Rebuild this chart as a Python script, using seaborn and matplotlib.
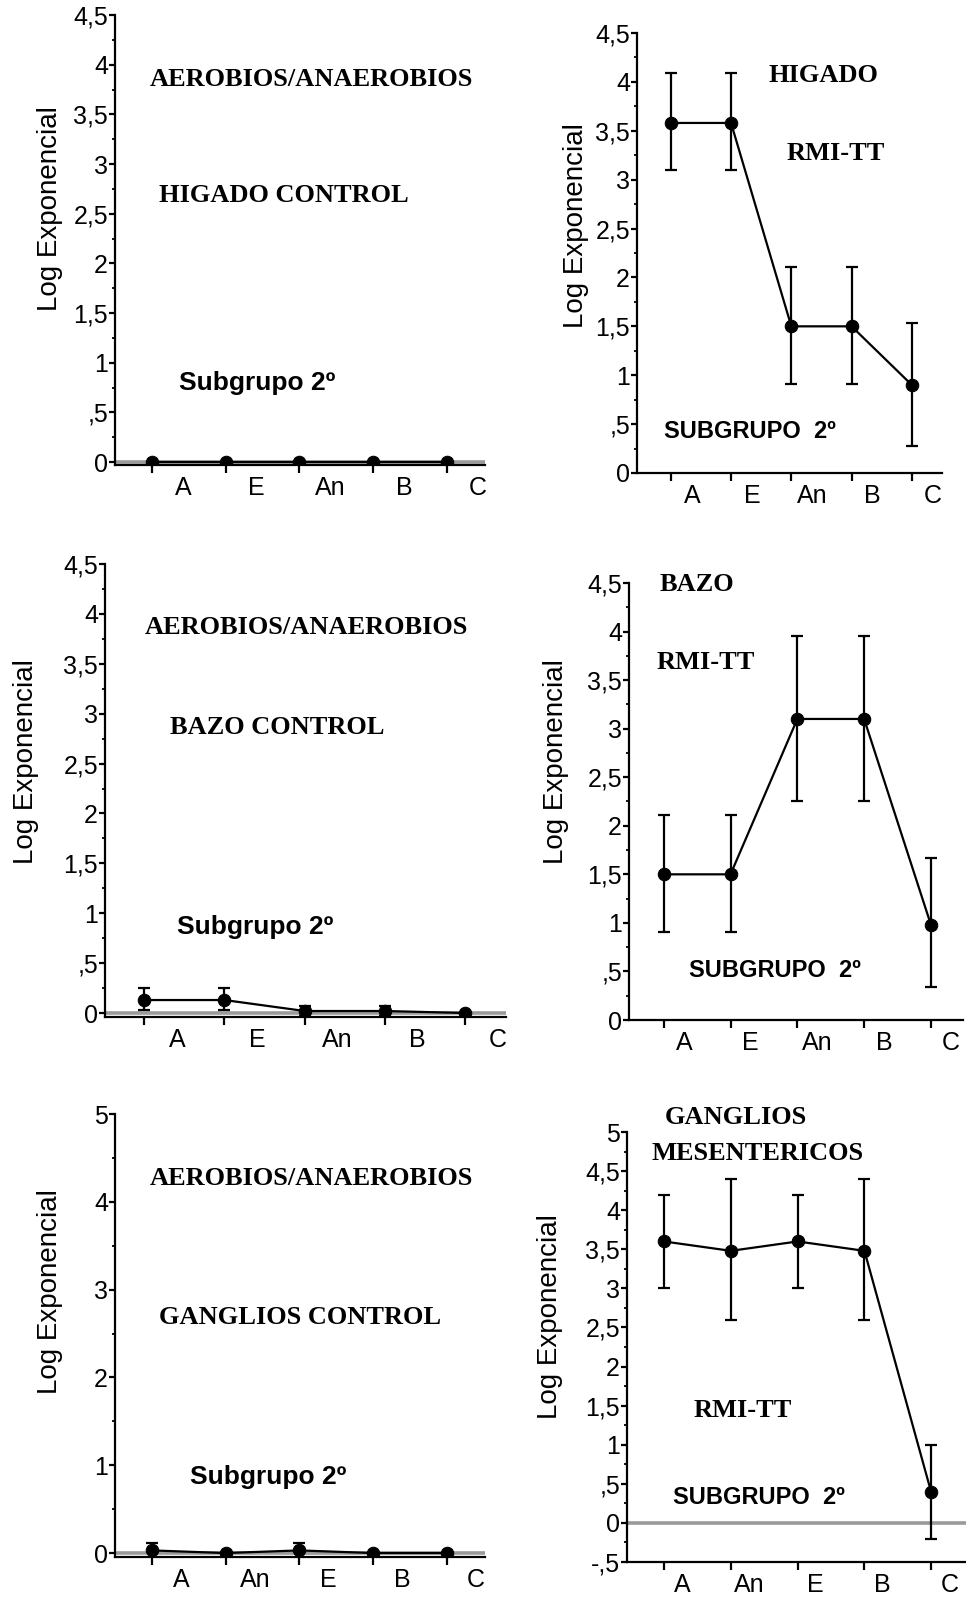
import matplotlib
matplotlib.use('Agg')
import matplotlib.pyplot as plt
import numpy as np
import pandas as pd
import seaborn as sns

# categories (order differs between the top four and the bottom two panels)
cats_top = ['A', 'E', 'An', 'B', 'C']
cats_bottom = ['A', 'An', 'E', 'B', 'C']

# HIGADO
higado_ctrl = [0.0, 0.0, 0.0, 0.0, 0.0]
higado_rmi = [3.58, 3.58, 1.50, 1.50, 0.90]
higado_rmi_lo = [3.10, 3.10, 0.91, 0.91, 0.28]
higado_rmi_hi = [4.09, 4.09, 2.11, 2.11, 1.53]

# BAZO
bazo_ctrl = [0.13, 0.13, 0.02, 0.02, 0.0]
bazo_ctrl_lo = [0.03, 0.03, -0.03, -0.03, 0.0]
bazo_ctrl_hi = [0.25, 0.25, 0.07, 0.07, 0.0]
bazo_rmi = [1.50, 1.50, 3.10, 3.10, 0.98]
bazo_rmi_lo = [0.91, 0.91, 2.25, 2.25, 0.34]
bazo_rmi_hi = [2.11, 2.11, 3.95, 3.95, 1.67]

# GANGLIOS
gang_ctrl = [0.03, 0.0, 0.03, 0.0, 0.0]
gang_ctrl_lo = [-0.06, 0.0, -0.06, 0.0, 0.0]
gang_ctrl_hi = [0.12, 0.0, 0.12, 0.0, 0.0]
gang_rmi = [3.60, 3.48, 3.60, 3.48, 0.39]
gang_rmi_lo = [3.00, 2.60, 3.00, 2.60, -0.20]
gang_rmi_hi = [4.20, 4.40, 4.20, 4.40, 1.00]

W, H = 966, 1610
sns.set_style('ticks')
plt.rcParams['font.family'] = ['Liberation Sans', 'DejaVu Sans']
plt.rcParams['text.color'] = 'black'
plt.rcParams['axes.labelcolor'] = 'black'
plt.rcParams['xtick.color'] = 'black'
plt.rcParams['ytick.color'] = 'black'
SERIF = ['Liberation Serif', 'DejaVu Serif']
fig = plt.figure(figsize=(W / 100, H / 100), dpi=100)


def box(l, t, r, b):
    return [l / W, 1 - b / H, (r - l) / W, (b - t) / H]


def yfmt(v):
    if abs(v) < 1e-9:
        return '0'
    if float(v).is_integer():
        return str(int(round(v)))
    s = f'{v:g}'
    if abs(v) < 1:
        s = s.replace('0.', '.')
    return s.replace('.', ',')


def ftext(x, y, s, serif=True, size=19, **kw):
    fam = SERIF if serif else ['Liberation Sans', 'DejaVu Sans']
    fig.text(x / W, 1 - y / H, s, family=fam, fontweight='bold', fontsize=size,
             ha='center', va='center', color='black', **kw)


panels = [
    dict(rect=(115, 15, 485, 465), xlim=(-0.5, 4.52), ylim=(-0.03, 4.5), cats=cats_top,
         mean=higado_ctrl, lo=None, hi=None, major=0.5, minor=0.25, zero=True, off=0.42),
    dict(rect=(637, 33, 942, 473), xlim=(-0.56, 4.5), ylim=(0, 4.5), cats=cats_top,
         mean=higado_rmi, lo=higado_rmi_lo, hi=higado_rmi_hi, major=0.5, minor=0.25, zero=False, off=0.35),
    dict(rect=(105, 564, 506, 1017), xlim=(-0.49, 4.51), ylim=(-0.04, 4.5), cats=cats_top,
         mean=bazo_ctrl, lo=bazo_ctrl_lo, hi=bazo_ctrl_hi, major=0.5, minor=0.25, zero=True, off=0.41),
    dict(rect=(629, 583, 963, 1020), xlim=(-0.52, 4.48), ylim=(0, 4.5), cats=cats_top,
         mean=bazo_rmi, lo=bazo_rmi_lo, hi=bazo_rmi_hi, major=0.5, minor=0.25, zero=False, off=0.3),
    dict(rect=(115, 1114, 485, 1557), xlim=(-0.5, 4.52), ylim=(-0.045, 5), cats=cats_bottom,
         mean=gang_ctrl, lo=gang_ctrl_lo, hi=gang_ctrl_hi, major=1, minor=0.5, zero=True, off=0.4),
    dict(rect=(627, 1132, 966, 1562), xlim=(-0.554, 4.52), ylim=(-0.5, 5), cats=cats_bottom,
         mean=gang_rmi, lo=gang_rmi_lo, hi=gang_rmi_hi, major=0.5, minor=0.25, zero=True, off=0.27),
]

for p in panels:
    ax = fig.add_axes(box(*p['rect']))
    x = np.arange(len(p['cats']))
    df = pd.DataFrame({'pos': x, 'val': p['mean']})
    if p['zero']:
        ax.axhline(0, color='#9a9a9a', lw=2.6, zorder=1)
    if p['lo'] is not None:
        m = np.array(p['mean'])
        yerr = [m - np.array(p['lo']), np.array(p['hi']) - m]
        ax.errorbar(x, m, yerr=yerr, fmt='none', ecolor='black', elinewidth=1.6,
                    capsize=4.2, capthick=1.6, zorder=3)
    sns.lineplot(data=df, x='pos', y='val', ax=ax, color='black', linewidth=1.6,
                 marker='o', markersize=9, markeredgecolor='black', zorder=4)
    ax.set_xlim(*p['xlim'])
    ax.set_ylim(*p['ylim'])
    lo_t = np.ceil(p['ylim'][0] / p['major'] - 1e-9) * p['major']
    yt = np.arange(lo_t, p['ylim'][1] + 1e-9, p['major'])
    ax.set_yticks(yt)
    ax.set_yticklabels([yfmt(v) for v in yt])
    lo_m = np.ceil(p['ylim'][0] / p['minor'] - 1e-9) * p['minor']
    ax.set_yticks(np.arange(lo_m, p['ylim'][1] + 1e-9, p['minor']), minor=True)
    ax.set_xticks(x)
    ax.set_xticklabels([])
    ax.set_xticks(x + p['off'], minor=True)
    ax.set_xticklabels(p['cats'], minor=True)
    ax.set_xlabel('')
    ax.set_ylabel('')
    for s in ['top', 'right']:
        ax.spines[s].set_visible(False)
    for s in ['left', 'bottom']:
        ax.spines[s].set_linewidth(1.6)
        ax.spines[s].set_color('black')
    ax.tick_params(axis='y', which='major', length=4, width=1.6, pad=1, labelsize=18)
    ax.tick_params(axis='y', which='minor', length=2.5, width=1.3)
    ax.tick_params(axis='x', which='major', length=6, width=1.6)
    ax.tick_params(axis='x', which='minor', length=0, pad=8, labelsize=18)
    ax.patch.set_alpha(0)

# axis titles
for (lx, ly) in [(50, 209), (576, 226), (26, 762), (556, 762), (50, 1292), (550, 1317)]:
    fig.text(lx / W, 1 - ly / H, 'Log Exponencial', rotation=90, fontsize=20,
             ha='center', va='center', color='black')

# annotations
ftext(311, 79, 'AEROBIOS/ANAEROBIOS')
ftext(284, 195, 'HIGADO CONTROL')
ftext(257, 383, 'Subgrupo 2º', serif=False, size=19)
ftext(823, 76, 'HIGADO')
ftext(836, 154, 'RMI-TT')
ftext(750, 431, 'SUBGRUPO  2º', serif=False, size=17)

ftext(306, 628, 'AEROBIOS/ANAEROBIOS')
ftext(277, 727, 'BAZO CONTROL')
ftext(255, 927, 'Subgrupo 2º', serif=False, size=19)
ftext(697, 584, 'BAZO')
ftext(706, 662, 'RMI-TT')
ftext(775, 970, 'SUBGRUPO  2º', serif=False, size=17)

ftext(311, 1178, 'AEROBIOS/ANAEROBIOS')
ftext(300, 1318, 'GANGLIOS CONTROL')
ftext(268, 1477, 'Subgrupo 2º', serif=False, size=19)
ftext(736, 1118, 'GANGLIOS')
ftext(758, 1154, 'MESENTERICOS')
ftext(743, 1410, 'RMI-TT')
ftext(759, 1497, 'SUBGRUPO  2º', serif=False, size=17)

fig.savefig('out.png', dpi=100, facecolor='white')
